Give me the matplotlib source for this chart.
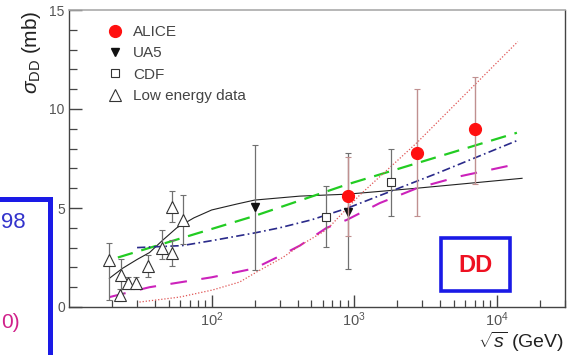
import matplotlib
matplotlib.use("Agg")
import matplotlib.pyplot as plt
from matplotlib.lines import Line2D
from matplotlib.patches import Rectangle
from matplotlib.ticker import LogLocator, MultipleLocator, FixedLocator

plt.rcParams['font.family'] = ['Liberation Sans', 'DejaVu Sans']
plt.rcParams['mathtext.fontset'] = 'custom'
plt.rcParams['mathtext.rm'] = 'Liberation Sans'
plt.rcParams['mathtext.it'] = 'Liberation Sans:italic'

# ---------------- data ----------------
alice_x = [900, 2760, 7000]
alice_y = [5.6, 7.8, 9.0]
alice_lo = [2.0, 3.2, 2.8]
alice_hi = [2.0, 3.2, 2.6]

ua5_x = [200, 900]
ua5_y = [5.05, 4.8]
ua5_lo = [3.2, 2.9]
ua5_hi = [3.15, 3.0]

cdf_x = [630, 1800]
cdf_y = [4.55, 6.3]
cdf_lo = [1.5, 1.7]
cdf_hi = [1.55, 1.7]

low_x = [19.2, 23.3, 22.6, 26.0, 29.5, 36.0, 45.0, 52.5, 52.5, 63.0]
low_y = [2.37, 1.6, 0.6, 1.2, 1.2, 2.07, 3.0, 5.05, 2.75, 4.4]
low_lo = [2.0, 0.9, 0.3, 0.3, 0.3, 0.55, 0.6, 0.75, 0.7, 1.2]
low_hi = [0.85, 0.8, 0.3, 0.3, 0.3, 0.55, 0.9, 0.8, 0.65, 1.25]

black_x = [19.2, 23.7, 30, 36.7, 45, 57, 75, 100, 150, 200, 415, 900, 2750, 15000]
black_y = [1.45, 1.95, 2.4, 2.75, 3.35, 4.0, 4.5, 4.9, 5.2, 5.4, 5.6, 5.7, 6.0, 6.5]

green_x = [22, 200, 900, 13800]
green_y = [2.5, 4.6, 6.2, 8.8]

blue_x = [30, 62, 100, 200, 300, 500, 900, 3800, 13800]
blue_y = [3.0, 3.1, 3.35, 3.74, 4.0, 4.4, 5.0, 6.75, 8.4]

mag_x = [19.2, 36.7, 100, 200, 286, 415, 640, 886, 1510, 2750, 5500, 13400]
mag_y = [0.5, 1.0, 1.5, 1.95, 2.5, 3.1, 4.0, 4.4, 5.25, 6.0, 6.6, 7.2]

red_x = [31.2, 59.6, 101.6, 157, 207, 315, 415, 640, 1094, 2750, 14000]
red_y = [0.25, 0.5, 0.86, 1.26, 1.77, 2.5, 3.1, 3.9, 5.66, 8.3, 13.4]

legend_labels = ["ALICE", "UA5", "CDF", "Low energy data"]
x_major_ticks = [1e2, 1e3, 1e4]
x_tick_labels = [r'$10^{2}$', r'$10^{3}$', r'$10^{4}$']

# ---------------- figure ----------------
W, H = 567, 355
fig = plt.figure(figsize=(W / 100, H / 100), dpi=100)
ax = fig.add_axes([69 / W, 1 - 307 / H, 496 / W, 297 / H])

ax.set_xscale('log')
ax.set_xlim(10, 3e4)
ax.set_ylim(0, 15)

# curves
ax.plot(black_x, black_y, color='#222222', lw=0.8, zorder=2)
ax.plot(green_x, green_y, color='#22cc22', lw=1.6, dashes=(7, 4), zorder=2)
ax.plot(blue_x, blue_y, color='#2a2a8a', lw=1.2, dashes=(5, 2, 1, 2), zorder=2)
ax.plot(mag_x, mag_y, color='#cc22bb', lw=1.5, dashes=(8, 7), zorder=2)
ax.plot(red_x, red_y, color='#e05555', lw=0.9, dashes=(1, 1.5), zorder=2)

ebkw = dict(ecolor='#707070', elinewidth=0.9, capsize=2, capthick=0.8, zorder=3)

ax.errorbar(low_x, low_y, yerr=[low_lo, low_hi], fmt='^', ms=8, mfc='white',
            mec='#333333', mew=0.8, **ebkw)
ax.errorbar(cdf_x, cdf_y, yerr=[cdf_lo, cdf_hi], fmt='s', ms=5.5, mfc='white',
            mec='#333333', mew=0.8, **ebkw)
ax.errorbar(ua5_x, ua5_y, yerr=[ua5_lo, ua5_hi], fmt='v', ms=5.5, mfc='#111111',
            mec='#111111', **ebkw)
ax.errorbar(alice_x, alice_y, yerr=[alice_lo, alice_hi], fmt='o', ms=8.5,
            mfc='#ff1010', mec='#ff1010', ecolor='#c09090', elinewidth=1.0,
            capsize=2, capthick=0.8, zorder=4)

# axes styling
for s in ['left', 'bottom', 'right']:
    ax.spines[s].set_color('#444444')
    ax.spines[s].set_linewidth(1.0)
ax.spines['top'].set_color('#aaaaaa')
ax.spines['top'].set_linewidth(1.2)

ax.yaxis.set_major_locator(MultipleLocator(5))
ax.yaxis.set_minor_locator(MultipleLocator(1))
ax.xaxis.set_major_locator(FixedLocator(x_major_ticks))
ax.set_xticklabels(x_tick_labels)
ax.xaxis.set_minor_locator(LogLocator(base=10, subs=range(2, 10), numticks=20))

ax.tick_params(axis='both', which='both', direction='in', colors='#444444',
               labelcolor='#555555', top=False, right=False)
ax.tick_params(axis='y', which='major', length=9, width=1.0, labelsize=10, pad=3)
ax.tick_params(axis='y', which='minor', length=6, width=0.9)
ax.tick_params(axis='x', which='major', length=9, width=1.0, labelsize=10.5, pad=2.5)
ax.tick_params(axis='x', which='minor', length=5, width=0.9)

ax.set_ylabel(r'$\sigma_{\mathrm{DD}}$ (mb)', fontsize=15, loc='top', labelpad=5,
              color='#222222')
ax.set_xlabel(r'$\sqrt{s}$ (GeV)', fontsize=14, loc='right', labelpad=2,
              color='#222222')
ax.xaxis.set_label_coords(0.997, -0.078)

# legend
handles = [
    Line2D([], [], ls='none', marker='o', ms=8.5, mfc='#ff1010', mec='#ff1010'),
    Line2D([], [], ls='none', marker='v', ms=5.5, mfc='#111111', mec='#111111'),
    Line2D([], [], ls='none', marker='s', ms=5.5, mfc='white', mec='#333333', mew=0.8),
    Line2D([], [], ls='none', marker='^', ms=8, mfc='white', mec='#333333', mew=0.8),
]
leg = ax.legend(handles, legend_labels, loc='upper left',
                bbox_to_anchor=((107 - 69) / 496, (307 - 25) / 297),
                frameon=False, fontsize=11, handlelength=1.0, handletextpad=0.7,
                labelspacing=0.48, borderpad=0, borderaxespad=0)
for t in leg.get_texts():
    t.set_color('#444444')

# DD box overlay
fig.add_artist(Rectangle((441 / W, 1 - 291 / H), 69 / W, 53 / H,
                         transform=fig.transFigure, facecolor='white',
                         edgecolor='#1a1ae6', lw=2.6, zorder=5))
fig.text(476 / W, 1 - 265 / H, 'DD', color='#ee1122', fontsize=17,
         fontweight='bold', ha='center', va='center', zorder=6)

# left slide overlay box
fig.add_artist(Rectangle((-10 / W, 1 - 380 / H), 59.5 / W, (380 - 199) / H,
                         transform=fig.transFigure, facecolor='white',
                         edgecolor='#1a1ae6', lw=3.6, zorder=5, clip_on=False))
fig.text(1 / W, 1 - 222 / H, '98', color='#3333cc', fontsize=16,
         ha='left', va='center', zorder=6)
fig.text(1 / W, 1 - 322 / H, '0)', color='#d0208a', fontsize=15,
         ha='left', va='center', zorder=6)

fig.savefig('out.png', dpi=100)
